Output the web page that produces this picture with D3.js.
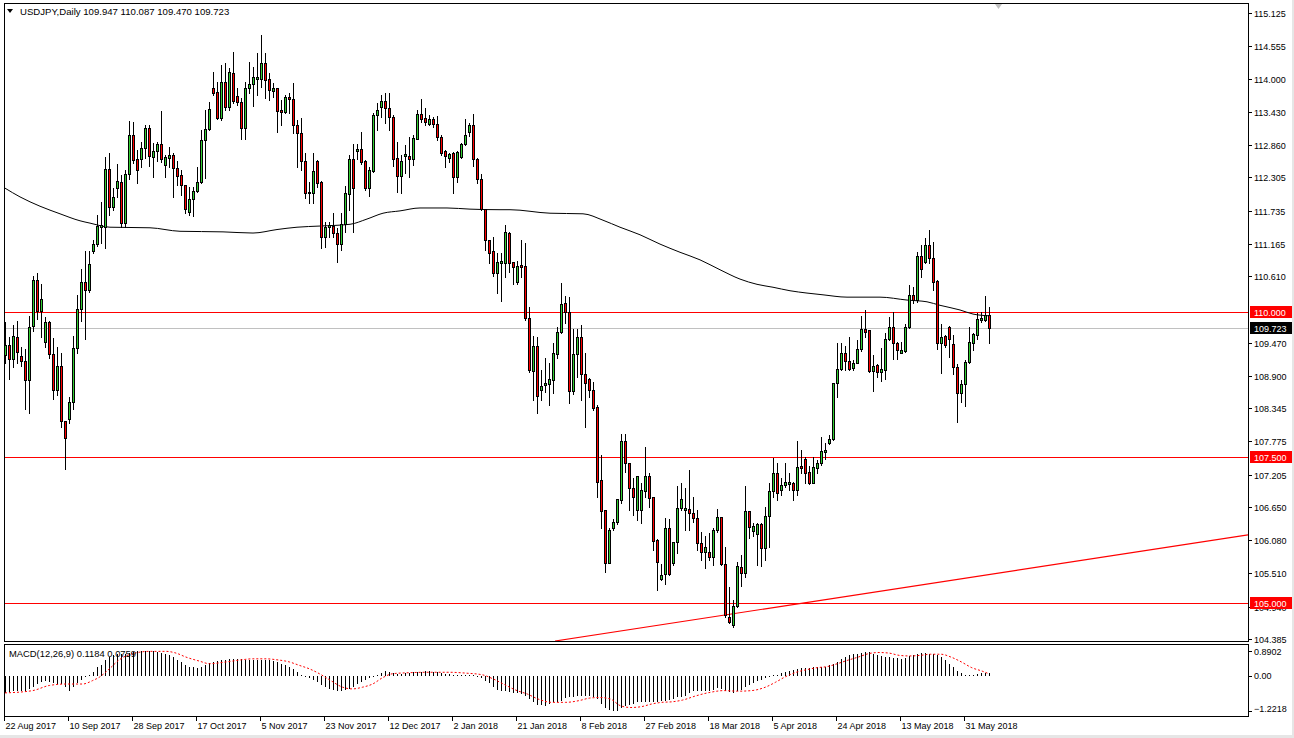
<!DOCTYPE html>
<html><head><meta charset="utf-8">
<script src="https://cdn.jsdelivr.net/npm/d3@7"></script>
<style>
html,body{margin:0;padding:0;background:#fff;}
svg{display:block;font-family:"Liberation Sans",Arial,sans-serif;}
</style></head><body>
<svg id="c" width="1294" height="738"></svg>
<script>
const title = "USDJPY,Daily";
const opens = [109.26,109.43,109.19,109.57,109.24,109.15,108.83,109.76,110.54,110.01,109.48,109.82,109.27,108.66,109.07,108.13,108.16,108.45,109.38,110.05,110.51,110.37,111.04,111.16,111.45,111.45,112.45,111.80,112.12,112.23,111.52,112.36,113.03,112.62,112.62,112.81,113.15,112.65,112.76,112.88,112.52,112.64,112.69,112.47,112.35,112.17,111.71,111.93,112.07,112.23,112.95,113.13,113.84,113.77,113.32,113.94,113.51,114.10,113.70,113.60,113.15,113.84,113.91,113.99,113.99,114.27,113.99,113.79,113.84,113.46,113.43,113.68,113.65,113.20,113.07,112.59,112.05,112.04,112.59,112.23,111.28,111.45,111.47,111.35,111.16,111.51,112.02,112.62,112.76,112.79,112.59,112.12,112.41,113.38,113.51,113.62,113.50,113.34,112.64,112.33,112.67,112.67,112.62,112.96,113.39,113.32,113.22,113.31,113.22,113.00,112.76,112.64,112.72,112.31,112.65,112.88,113.08,113.20,112.62,112.28,111.76,111.23,111.04,110.66,110.84,110.84,111.35,110.85,110.51,110.80,110.78,109.89,108.98,109.41,108.66,108.74,108.76,108.83,109.27,109.65,110.15,110.00,108.64,109.27,109.57,108.93,108.85,108.66,108.37,107.11,106.60,105.69,106.29,106.39,106.77,107.78,107.40,106.98,106.60,106.60,106.92,107.18,106.82,106.08,105.41,105.50,106.29,105.69,106.05,106.63,106.60,106.62,106.55,106.46,106.03,105.88,105.88,105.79,106.26,106.48,105.67,104.76,104.63,104.95,105.62,105.52,106.58,106.24,106.19,106.36,105.95,106.50,106.92,107.23,106.94,107.03,107.04,107.06,106.94,107.35,107.47,107.25,107.06,107.32,107.40,107.59,107.75,107.82,108.78,109.02,109.29,109.15,109.03,109.12,109.36,109.70,109.69,108.98,109.09,108.97,109.00,109.53,109.74,109.46,109.29,109.33,109.74,110.29,110.20,110.96,110.85,111.14,110.92,110.53,109.46,109.58,109.74,109.45,109.05,108.61,108.76,109.14,109.46,109.60,109.86,109.86,109.947];
const highs = [109.82,109.57,109.77,109.84,109.39,109.36,109.93,110.61,110.66,110.48,109.91,109.84,109.55,109.39,109.29,108.13,108.54,109.58,110.29,110.73,111.04,111.04,111.23,111.66,111.88,112.65,112.72,112.12,112.53,112.35,112.43,113.27,113.26,112.77,112.91,113.20,113.20,112.89,112.91,113.44,112.69,112.83,112.72,112.59,112.43,112.17,112.14,112.14,112.48,113.12,113.46,113.60,114.11,113.94,114.23,114.27,114.18,114.46,113.84,113.67,113.94,114.28,114.20,114.44,114.75,114.44,114.10,113.92,113.84,113.63,113.72,113.75,113.92,113.29,113.32,112.72,112.23,112.72,112.60,112.24,111.54,111.54,111.69,111.44,111.69,112.16,112.69,112.88,112.88,113.08,112.60,112.48,113.41,113.58,113.72,113.75,113.75,113.38,112.91,112.69,112.86,113.00,113.03,113.46,113.65,113.50,113.38,113.34,113.36,113.03,112.77,112.72,112.74,112.76,112.89,113.31,113.24,113.39,112.64,112.36,111.76,111.23,111.28,111.01,111.01,111.49,111.37,110.85,110.87,111.23,111.18,110.08,109.58,109.57,109.00,109.21,109.12,109.46,109.74,110.49,110.27,110.25,109.70,109.70,109.77,109.29,108.86,108.79,108.40,107.54,106.60,106.29,106.44,106.79,107.90,107.90,107.40,107.15,107.18,107.06,107.68,107.23,106.82,106.10,105.67,106.46,106.44,106.05,107.01,107.06,106.98,107.28,106.82,106.60,106.22,106.15,106.20,106.29,106.62,106.48,105.96,105.28,105.05,105.71,105.83,107.01,106.58,106.38,106.38,106.38,106.65,107.06,107.49,107.40,107.15,107.40,107.23,107.08,107.78,107.63,107.51,107.35,107.51,107.46,107.85,107.75,107.89,108.78,109.46,109.46,109.41,109.57,109.17,109.52,109.93,110.03,109.69,109.26,109.10,109.38,109.64,109.91,110.00,109.48,109.48,109.79,110.46,110.42,111.02,111.14,111.26,111.40,111.20,110.54,109.79,109.60,109.76,109.60,109.10,108.83,109.17,109.74,109.64,109.98,110.00,110.27,110.087];
const lows = [109.12,108.85,109.05,109.12,109.07,108.33,108.26,109.67,109.88,109.57,109.39,109.21,108.50,108.57,108.02,107.30,108.09,108.33,109.29,109.84,109.53,110.34,111.01,111.13,111.18,111.09,111.66,111.75,111.97,111.45,111.45,112.28,112.55,112.21,112.48,112.64,112.50,112.31,112.59,112.57,112.31,112.48,111.97,112.17,112.00,111.69,111.66,111.64,112.05,112.21,112.29,113.12,113.72,113.31,113.29,113.46,113.46,113.58,113.55,112.96,112.96,113.75,113.53,113.72,113.86,113.67,113.63,113.68,113.08,113.20,113.41,113.41,113.07,112.48,112.43,111.95,111.87,111.87,112.14,111.09,111.11,111.28,111.28,110.85,111.06,111.37,111.75,111.37,112.62,112.53,112.09,111.99,112.40,113.12,113.34,113.24,113.12,112.50,112.05,112.04,112.38,112.31,112.52,112.96,113.26,113.20,113.20,113.17,112.95,112.69,112.48,112.57,112.04,112.23,112.64,112.86,113.01,112.50,112.21,111.75,111.06,110.84,110.61,110.32,110.18,110.60,110.68,110.48,110.48,110.60,109.86,108.97,108.49,108.26,108.49,108.62,108.40,108.61,109.21,109.64,109.81,108.43,108.59,108.88,108.49,108.02,108.54,108.31,106.82,106.29,105.53,105.69,106.26,106.36,106.72,107.25,106.60,106.51,106.43,106.38,106.82,106.65,105.91,105.23,105.40,105.33,105.48,105.65,105.86,106.60,106.26,106.26,106.39,105.91,105.74,105.60,105.74,105.65,106.22,105.65,104.76,104.66,104.59,104.93,105.29,105.45,106.12,106.15,105.65,105.64,105.74,105.96,106.82,106.77,106.86,106.99,106.94,106.77,106.86,107.23,107.06,107.04,107.06,107.23,107.37,107.47,107.73,107.80,108.54,109.00,109.00,109.00,109.00,109.12,109.33,109.57,108.97,108.64,108.88,108.81,108.85,109.52,109.19,109.19,109.29,109.31,109.72,110.15,110.17,110.60,110.84,110.84,110.37,109.36,108.95,109.39,109.22,108.93,108.11,108.45,108.38,109.12,109.34,109.53,109.82,109.84,109.470];
const closes = [109.43,109.19,109.58,109.31,109.15,108.83,109.74,110.54,110.01,110.22,109.82,109.27,108.66,109.07,108.13,107.83,108.45,109.38,110.05,110.51,110.37,110.82,111.16,111.47,111.49,112.45,111.80,111.97,112.24,111.52,112.36,113.03,112.60,112.43,112.81,113.15,112.67,112.76,112.88,112.62,112.65,112.69,112.47,112.33,112.17,111.76,111.93,112.07,112.23,112.95,113.13,113.48,113.75,113.32,113.94,113.51,114.11,113.62,113.60,113.15,113.84,113.91,114.03,114.03,114.27,113.98,113.80,113.84,113.44,113.43,113.68,113.65,113.20,113.07,112.59,112.04,112.04,112.41,112.21,111.28,111.45,111.49,111.35,111.16,111.51,112.04,112.62,112.12,112.79,112.57,112.12,112.43,113.38,113.46,113.62,113.50,113.34,112.62,112.33,112.59,112.71,112.62,112.98,113.39,113.31,113.26,113.31,113.22,113.00,112.72,112.67,112.71,112.31,112.74,112.88,113.03,113.20,112.62,112.28,111.76,111.23,111.01,110.66,110.85,110.87,111.37,110.84,110.77,110.78,110.77,109.89,109.00,109.41,108.55,108.73,108.78,108.85,109.29,109.65,110.13,110.00,108.64,109.27,109.57,108.93,108.78,108.66,108.35,107.08,106.58,105.69,106.26,106.39,106.79,107.78,107.40,106.98,106.82,107.18,106.94,107.18,106.80,106.07,105.71,105.48,106.29,105.50,106.05,106.63,106.79,106.63,106.55,106.46,106.03,105.88,105.96,105.79,106.26,106.48,105.67,104.80,104.68,104.95,105.64,105.52,106.58,106.31,106.32,106.36,105.95,106.50,106.92,107.23,106.89,107.03,107.08,107.08,106.94,107.34,107.32,107.23,107.06,107.34,107.40,107.61,107.63,107.82,108.78,109.02,109.29,109.15,109.02,109.12,109.36,109.70,109.65,108.98,109.07,108.97,109.02,109.53,109.74,109.46,109.34,109.34,109.74,110.29,110.20,110.96,110.73,111.14,110.92,110.51,109.46,109.57,109.43,109.53,109.05,108.61,108.76,109.14,109.48,109.62,109.88,109.89,109.94,109.723];
const macdMain = [-0.59,-0.57,-0.53,-0.53,-0.51,-0.51,-0.45,-0.37,-0.28,-0.22,-0.18,-0.22,-0.25,-0.28,-0.28,-0.39,-0.51,-0.37,-0.25,-0.13,-0.04,0.04,0.13,0.31,0.40,0.55,0.66,0.72,0.78,0.78,0.76,0.80,0.84,0.86,0.87,0.89,0.87,0.86,0.84,0.80,0.78,0.72,0.66,0.57,0.49,0.40,0.33,0.31,0.29,0.33,0.40,0.45,0.49,0.52,0.55,0.57,0.60,0.60,0.60,0.59,0.57,0.57,0.57,0.57,0.57,0.57,0.55,0.52,0.49,0.43,0.37,0.31,0.25,0.13,0.04,-0.02,-0.06,-0.13,-0.22,-0.31,-0.39,-0.45,-0.49,-0.51,-0.53,-0.49,-0.45,-0.39,-0.28,-0.22,-0.13,-0.06,-0.02,0.04,0.10,0.17,0.13,0.10,0.08,0.08,0.10,0.12,0.13,0.13,0.13,0.16,0.17,0.13,0.13,0.10,0.08,0.08,0.05,0.04,0.04,0.05,0.04,0.02,-0.02,-0.06,-0.16,-0.25,-0.39,-0.49,-0.53,-0.53,-0.57,-0.59,-0.59,-0.63,-0.69,-0.80,-0.92,-1.00,-1.02,-1.04,-0.98,-0.92,-0.92,-0.86,-0.77,-0.72,-0.72,-0.69,-0.69,-0.69,-0.69,-0.72,-0.80,-0.96,-1.10,-1.19,-1.2218,-1.21,-1.10,-1.04,-1.00,-0.96,-0.92,-0.92,-0.92,-0.92,-0.92,-0.92,-0.89,-0.86,-0.84,-0.80,-0.75,-0.72,-0.69,-0.60,-0.53,-0.51,-0.51,-0.51,-0.51,-0.49,-0.42,-0.45,-0.51,-0.57,-0.60,-0.53,-0.49,-0.39,-0.33,-0.25,-0.18,-0.13,-0.06,-0.01,0.02,0.05,0.10,0.13,0.17,0.22,0.25,0.29,0.29,0.29,0.31,0.31,0.33,0.33,0.37,0.43,0.49,0.60,0.66,0.72,0.76,0.78,0.80,0.84,0.84,0.78,0.72,0.69,0.66,0.66,0.64,0.64,0.60,0.64,0.69,0.72,0.76,0.80,0.80,0.78,0.78,0.72,0.66,0.55,0.43,0.31,0.19,0.10,0.05,0.02,0.04,0.08,0.10,0.10,0.1184];
const macdSignal = [[0,-0.59],[6.9,-0.51],[11.1,-0.33],[15.25,-0.28],[19.4,-0.28],[21.9,-0.16],[23.6,-0.04],[26.1,0.25],[28.6,0.57],[31.9,0.78],[36.1,0.86],[40.25,0.86],[42.75,0.80],[45.25,0.66],[48.6,0.52],[51.1,0.43],[55.25,0.49],[59.4,0.57],[61.9,0.60],[65.25,0.60],[67.75,0.57],[71.1,0.49],[73.6,0.37],[76.1,0.25],[78.6,0.08],[81.1,-0.13],[84.4,-0.39],[86.9,-0.45],[89.4,-0.39],[91.9,-0.28],[94.4,-0.06],[96.9,0.08],[100.25,0.11],[105.25,0.13],[111.1,0.13],[115.25,0.10],[119.4,0.04],[122,-0.10],[124.6,-0.28],[128,-0.51],[130.6,-0.63],[133.2,-0.80],[136.7,-0.92],[140.1,-0.92],[143.5,-0.86],[146.2,-0.77],[148.7,-0.75],[151.3,-0.80],[153.9,-1.04],[156.5,-1.10],[159.1,-1.07],[161.6,-0.98],[164.2,-0.92],[166.8,-0.90],[169.4,-0.84],[172.8,-0.69],[176.3,-0.57],[179.7,-0.51],[183.2,-0.53],[186.6,-0.51],[190.1,-0.39],[192.6,-0.22],[195.2,-0.02],[197.8,0.13],[200.4,0.22],[203,0.29],[205.6,0.33],[208.1,0.43],[210.7,0.55],[213.3,0.66],[215.9,0.78],[218.5,0.82],[221,0.80],[223.6,0.72],[226.2,0.70],[228.8,0.72],[231.4,0.76],[234,0.76],[236.5,0.66],[239.1,0.49],[241.7,0.29],[244.3,0.17],[246,0.0759]];
const ma200 = [[0,112.12],[3.75,111.97],[8.75,111.81],[13.75,111.68],[18.75,111.56],[21.25,111.52],[26.25,111.45],[36.25,111.44],[43.75,111.38],[54.5,111.37],[62,111.35],[68,111.41],[73,111.45],[78.75,111.47],[86.25,111.50],[90.5,111.59],[94.5,111.69],[98.75,111.73],[103.75,111.78],[110.5,111.78],[116.25,111.76],[123.75,111.75],[126.25,111.75],[136.25,111.69],[144.5,111.68],[149.5,111.57],[153.75,111.45],[158.75,111.32],[163.75,111.16],[168.75,111.02],[173.75,110.89],[178.75,110.72],[183.75,110.56],[188,110.47],[192,110.42],[196.25,110.36],[200.5,110.32],[204.5,110.29],[210.5,110.25],[218.75,110.25],[225.5,110.20],[230.5,110.17],[233.75,110.11],[238.75,110.03],[242,109.96],[246,109.93]];
const levels = [110.000, 107.500, 105.000];
const bid = 109.723;
const trendLine = [[137.5,104.351],[310.75,106.170]];
const priceTicks = [115.125,114.555,114.000,113.430,112.860,112.305,111.735,111.165,110.610,109.470,108.900,108.345,107.775,107.205,106.650,106.080,105.510,104.940,104.385];
const macdTicks = [0.8902, 0.00, -1.2218];
const dateTickIdx = [0,16,32,48,64,80,96,112,128,144,160,176,192,208,224,240];
const dateTickLabels = ["22 Aug 2017","10 Sep 2017","28 Sep 2017","17 Oct 2017","5 Nov 2017","23 Nov 2017","12 Dec 2017","2 Jan 2018","21 Jan 2018","8 Feb 2018","27 Feb 2018","18 Mar 2018","5 Apr 2018","24 Apr 2018","13 May 2018","31 May 2018"];

const W = 1294, H = 738;
const L = 4, R = 1248, mainTop = 3, mainBot = 641, mTop = 644, mBot = 716;
const svg = d3.select("#c");
const x = d3.scaleLinear().domain([0, 246]).range([5, 989]);
const y = d3.scaleLinear().domain([104.385, 115.125]).range([639, 13]);
const ym = d3.scaleLinear().domain([-1.2218, 0.8902]).range([711, 650.5]);
const fmt3 = d3.format(".3f");

svg.append("rect").attr("width", W).attr("height", H).attr("fill", "#fff");
const defs = svg.append("defs");
defs.append("clipPath").attr("id", "cm").append("rect").attr("x", L + 1).attr("y", mainTop + 1).attr("width", R - L - 1).attr("height", mainBot - mainTop - 1);
defs.append("clipPath").attr("id", "cd").append("rect").attr("x", L + 1).attr("y", mTop + 1).attr("width", R - L - 1).attr("height", mBot - mTop - 1);

const main = svg.append("g").attr("clip-path", "url(#cm)").attr("shape-rendering", "crispEdges");
levels.forEach(v => {
  const yy = Math.round(y(v)) + 0.5;
  main.append("line").attr("x1", L).attr("x2", R).attr("y1", yy).attr("y2", yy).attr("stroke", "#ff0000").attr("stroke-width", 1);
});
{
  const yy = Math.round(y(bid)) + 0.5;
  main.append("line").attr("x1", L).attr("x2", R).attr("y1", yy).attr("y2", yy).attr("stroke", "#c0c0c0").attr("stroke-width", 1);
}
main.append("line")
  .attr("x1", x(trendLine[0][0])).attr("y1", y(trendLine[0][1]))
  .attr("x2", x(trendLine[1][0])).attr("y2", y(trendLine[1][1]))
  .attr("stroke", "#ff0000").attr("stroke-width", 1.2).attr("shape-rendering", "auto");
main.append("path").datum(ma200)
  .attr("d", d3.line().x(d => x(d[0])).y(d => y(d[1])).curve(d3.curveMonotoneX))
  .attr("fill", "none").attr("stroke", "#000").attr("stroke-width", 1).attr("shape-rendering", "auto");
const cg = main.append("g");
opens.forEach((o, i) => {
  const c = closes[i], h = highs[i], l = lows[i];
  const cx = Math.round(x(i));
  const yh = Math.round(y(h)), yl = Math.round(y(l));
  cg.append("rect").attr("x", cx).attr("y", yh).attr("width", 1).attr("height", Math.max(1, yl - yh + 1)).attr("fill", "#000");
  const top = Math.round(y(Math.max(o, c))), bot = Math.round(y(Math.min(o, c)));
  cg.append("rect").attr("x", cx - 1).attr("y", top).attr("width", 3).attr("height", Math.max(1, bot - top + 1)).attr("fill", "#000");
  if (bot - top - 1 > 0) {
    cg.append("rect").attr("x", cx).attr("y", top + 1).attr("width", 1).attr("height", bot - top - 1)
      .attr("fill", c >= o ? "#32cd32" : "#ff0000");
  }
});

const md = svg.append("g").attr("clip-path", "url(#cd)").attr("shape-rendering", "crispEdges");
macdMain.forEach((v, i) => {
  const cx = Math.round(x(i));
  const y0 = Math.round(ym(0)), y1 = Math.round(ym(v));
  md.append("rect").attr("x", cx).attr("y", Math.min(y0, y1)).attr("width", 1).attr("height", Math.max(1, Math.abs(y1 - y0)))
    .attr("fill", "#000");
});
md.append("path").datum(macdSignal)
  .attr("d", d3.line().x(d => x(d[0])).y(d => ym(d[1])).curve(d3.curveMonotoneX))
  .attr("fill", "none").attr("stroke", "#ff0000").attr("stroke-width", 1).attr("stroke-dasharray", "2,2").attr("shape-rendering", "auto");

const fr = svg.append("g").attr("shape-rendering", "crispEdges").attr("fill", "none").attr("stroke", "#000");
fr.append("rect").attr("x", L + 0.5).attr("y", mainTop + 0.5).attr("width", R - L).attr("height", mainBot - mainTop);
fr.append("rect").attr("x", L + 0.5).attr("y", mTop + 0.5).attr("width", R - L).attr("height", mBot - mTop);

svg.append("path").attr("d", "M7,9 L13,9 L10,13 Z").attr("fill", "#000");
svg.append("text").attr("x", 20).attr("y", 15).attr("font-size", 9.6).attr("fill", "#000")
  .text(`${title}  ${fmt3(opens[246])} ${fmt3(highs[246])} ${fmt3(lows[246])} ${fmt3(closes[246])}`);
svg.append("path").attr("d", "M995,4 L1002,4 L998.5,9 Z").attr("fill", "#c0c0c0");
svg.append("text").attr("x", 9).attr("y", 657).attr("font-size", 9.4).attr("fill", "#000")
  .text(`MACD(12,26,9) ${d3.format(".4f")(macdMain[246])} ${d3.format(".4f")(macdSignal[macdSignal.length - 1][1])}`);

const ax = svg.append("g").attr("shape-rendering", "crispEdges");
defs.append("clipPath").attr("id", "hid").append("rect").attr("x", R).attr("y", Math.round(y(105)) + 6).attr("width", W - R).attr("height", 12);
priceTicks.forEach(p => {
  const yy = Math.round(y(p)) + 0.5;
  ax.append("line").attr("x1", R).attr("x2", R + 4).attr("y1", yy).attr("y2", yy).attr("stroke", "#000");
  const t = ax.append("text").attr("x", R + 6).attr("y", yy + 3.5).attr("font-size", 9).attr("fill", "#000").text(fmt3(p));
  if (Math.abs(p - 104.94) < 1e-6) t.attr("clip-path", "url(#hid)");
});
levels.forEach(v => {
  const yy = Math.round(y(v));
  ax.append("rect").attr("x", R + 2).attr("y", yy - 6).attr("width", W - R - 3).attr("height", 12).attr("fill", "#ff0000");
  ax.append("text").attr("x", R + 6).attr("y", yy + 4).attr("font-size", 9).attr("fill", "#fff").text(fmt3(v));
});
{
  const yy = Math.round(y(bid));
  ax.append("rect").attr("x", R + 2).attr("y", yy - 6).attr("width", W - R - 3).attr("height", 12).attr("fill", "#000");
  ax.append("text").attr("x", R + 6).attr("y", yy + 4).attr("font-size", 9).attr("fill", "#fff").text(fmt3(bid));
}
const macdLabY = [651, 675, 708];
macdTicks.forEach((v, k) => {
  const yy = Math.round(ym(v)) + 0.5;
  ax.append("line").attr("x1", R).attr("x2", R + 4).attr("y1", yy).attr("y2", yy).attr("stroke", "#000");
  ax.append("text").attr("x", R + 6).attr("y", macdLabY[k] + 3.5).attr("font-size", 9).attr("fill", "#000")
    .text(v === 0 ? "0.00" : d3.format(".4f")(v));
});
dateTickIdx.forEach((idx, k) => {
  const xx = Math.round(x(idx)) - 0.5;
  ax.append("line").attr("x1", xx).attr("x2", xx).attr("y1", mBot).attr("y2", mBot + 5).attr("stroke", "#000");
  ax.append("text").attr("x", xx + 1).attr("y", 729).attr("font-size", 9).attr("fill", "#000").text(dateTickLabels[k]);
});
svg.append("rect").attr("x", 0).attr("y", 735).attr("width", W).attr("height", 3).attr("fill", "#e6e6e6");
svg.append("rect").attr("x", 1292).attr("y", 0).attr("width", 2).attr("height", H).attr("fill", "#e6e6e6");
</script></body></html>
